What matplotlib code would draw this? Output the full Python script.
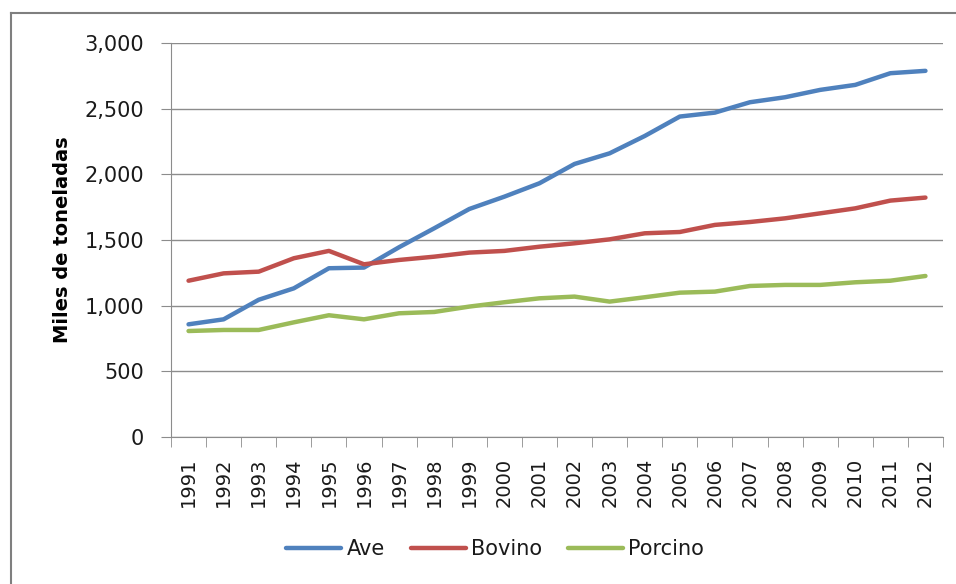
import matplotlib
matplotlib.use("Agg")
from matplotlib import pyplot as plt
from matplotlib.lines import Line2D
from matplotlib.ticker import FuncFormatter, FixedLocator
import numpy as np

plt.rcParams['font.family'] = ['DejaVu Sans']
plt.rcParams['text.color'] = '#1a1a1a'

years = [str(y) for y in range(1991, 2013)]
ave = [858, 896, 1045, 1132, 1285, 1290, 1445, 1589, 1736, 1830, 1932, 2079,
       2160, 2292, 2440, 2470, 2549, 2587, 2643, 2681, 2770, 2788]
bovino = [1190, 1246, 1259, 1361, 1417, 1315, 1348, 1373, 1404, 1417, 1449,
          1475, 1505, 1551, 1561, 1615, 1637, 1665, 1703, 1741, 1800, 1823]
porcino = [807, 815, 815, 873, 927, 896, 942, 952, 993, 1026, 1056, 1069,
           1031, 1064, 1099, 1107, 1150, 1158, 1158, 1178, 1190, 1226]

fig = plt.figure(figsize=(9.56, 5.84), dpi=100)
ax = fig.add_axes([171 / 956, 1 - 437 / 584, 772 / 956, 394 / 584])

x = np.arange(len(years))
for serie, color, nombre in [(ave, '#4F81BD', 'Ave'),
                             (bovino, '#C0504D', 'Bovino'),
                             (porcino, '#9BBB59', 'Porcino')]:
    ax.plot(x, serie, color=color, lw=3.2, label=nombre,
            solid_capstyle='round', solid_joinstyle='round')

ax.set_xlim(-0.5, len(years) - 0.5)
ax.set_ylim(0, 3000)
ax.set_yticks(np.arange(0, 3001, 500))
ax.yaxis.set_major_formatter(FuncFormatter(lambda v, p: f'{int(v):,}'))
ax.grid(axis='y', color='#8c8c8c', lw=1)
ax.set_axisbelow(True)

ax.set_xticks(x)
ax.set_xticklabels(years, rotation=90)
ax.xaxis.set_minor_locator(FixedLocator(np.arange(-0.5, len(years), 1)))
ax.tick_params(axis='x', which='major', length=0, pad=15, labelsize=14,
               labelcolor='#1a1a1a')
ax.tick_params(axis='x', which='minor', length=7, color='#8c8c8c', direction='out')
ax.tick_params(axis='y', length=7, color='#8c8c8c', pad=12.5, labelsize=15,
               labelcolor='#1a1a1a')

for s in ['top', 'right']:
    ax.spines[s].set_visible(False)
for s in ['left', 'bottom']:
    ax.spines[s].set_color('#8c8c8c')

ax.set_ylabel('Miles de toneladas', fontsize=14, fontweight='bold')
ax.yaxis.set_label_coords(-99 / 772, 0.5)

fig.legend(loc='center', bbox_to_anchor=(495 / 956, 1 - 549 / 584), ncol=3,
           frameon=False, fontsize=15, handlelength=2.64, handletextpad=0.24,
           columnspacing=1.25)

# marco del grafico
fig.add_artist(Line2D([11 / 956, 11 / 956], [0, 1 - 13 / 584], color='#7f7f7f', lw=1.5))
fig.add_artist(Line2D([11 / 956, 1], [1 - 13 / 584, 1 - 13 / 584], color='#7f7f7f', lw=1.5))

fig.savefig('out.png', dpi=100)
